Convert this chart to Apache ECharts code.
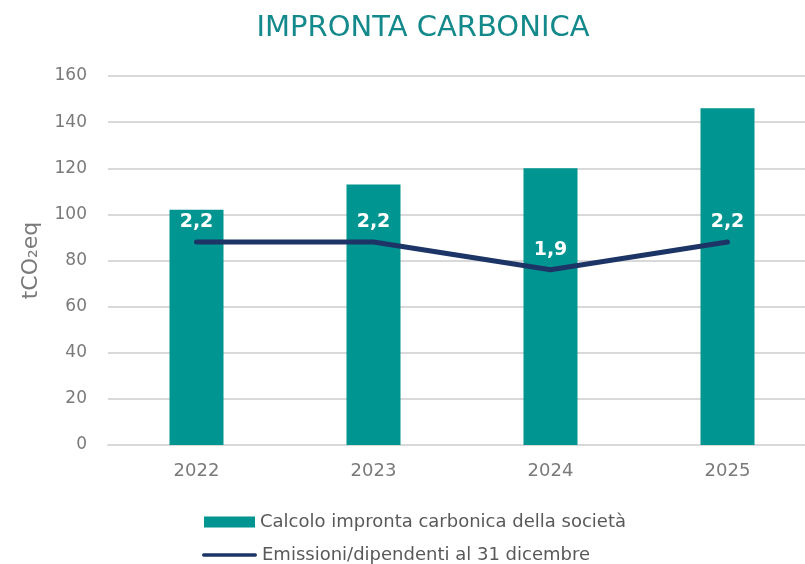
<!DOCTYPE html>
<html><head><meta charset="utf-8">
<script src="https://cdn.jsdelivr.net/npm/echarts@6/dist/echarts.min.js"></script>
<style>html,body{margin:0;padding:0;background:#fff;overflow:hidden}#c{width:820px;height:564px}</style>
</head><body><div id="c"></div>
<script>
const categories = ['2022', '2023', '2024', '2025'];
const barName = 'Calcolo impronta carbonica della società';
const barValues = [102, 113, 120, 146];
const lineName = 'Emissioni/dipendenti al 31 dicembre';
const lineValues = [2.2, 2.2, 1.9, 2.2];
const yTicks = [0, 20, 40, 60, 80, 100, 120, 140, 160];

const FONT = 'DejaVu Sans';
const chart = echarts.init(document.getElementById('c'));
const legendText = { color: '#595959', fontFamily: FONT, fontSize: 18 };
chart.setOption({
  animation: false,
  title: {
    text: 'IMPRONTA CARBONICA',
    left: 418, top: 9, textAlign: 'center',
    textStyle: { color: '#13898b', fontFamily: FONT, fontSize: 29, fontWeight: 'normal' }
  },
  grid: { left: 108, top: 76, width: 708, height: 369 },
  legend: [{
    left: 199, top: 508, itemWidth: 51, itemHeight: 11, itemGap: 5,
    textStyle: legendText,
    data: [{ name: barName, icon: 'rect' }]
  }, {
    left: 197, top: 541, itemWidth: 55, itemHeight: 6, itemGap: 5,
    textStyle: legendText,
    data: [{ name: lineName, icon: 'path://M3,0 L97,0 A3,3 0 0 1 97,6 L3,6 A3,3 0 0 1 3,0 Z' }]
  }],
  xAxis: {
    type: 'category', data: categories,
    axisLine: { lineStyle: { color: '#d9d9d9', width: 2 } },
    axisTick: { show: false },
    axisLabel: { color: '#7a7a7a', fontFamily: FONT, fontSize: 18, margin: 17 }
  },
  yAxis: [{
    type: 'value', min: 0, max: 160, interval: 20,
    name: 'tCO₂eq', nameLocation: 'middle', nameGap: 66, nameRotate: 90,
    nameTextStyle: { color: '#7a7a7a', fontFamily: FONT, fontSize: 22 },
    axisLine: { show: false }, axisTick: { show: false },
    axisLabel: { color: '#7a7a7a', fontFamily: FONT, fontSize: 17, margin: 21,
      formatter: v => yTicks.includes(v) ? String(v) : '' },
    splitLine: { lineStyle: { color: '#d9d9d9', width: 2 } }
  }, {
    type: 'value', min: 0, max: 4, show: false, splitLine: { show: false }
  }],
  series: [{
    name: barName, type: 'bar', data: barValues, barWidth: 54,
    itemStyle: { color: '#009590' }
  }, {
    name: lineName, type: 'line', yAxisIndex: 1, data: lineValues,
    symbol: 'circle', symbolSize: 2, showSymbol: true,
    lineStyle: { color: '#1d3566', width: 5, cap: 'round', join: 'round' },
    itemStyle: { color: '#1d3566' },
    label: {
      show: true, position: 'top', distance: 9,
      color: '#ffffff', fontFamily: FONT, fontSize: 19, fontWeight: 'bold',
      formatter: p => String(p.value).replace('.', ',')
    }
  }]
});
</script></body></html>
